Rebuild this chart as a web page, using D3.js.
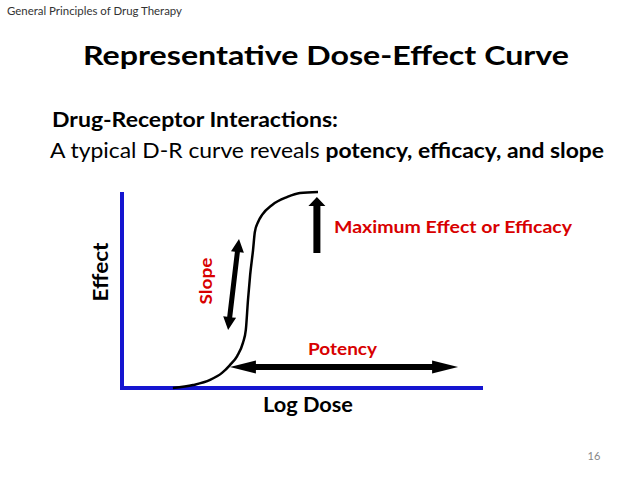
<!DOCTYPE html>
<html>
<head>
<meta charset="utf-8">
<script src="https://cdn.jsdelivr.net/npm/d3@7"></script>
<style>
  html, body { margin: 0; padding: 0; background: #fff; }
  svg { display: block; font-family: Lato, "Open Sans", sans-serif; }
</style>
</head>
<body>
<div id="chart"></div>
<script>
// dose-effect curve (log dose 0..10, effect 0..100)
const logDose = [1.41, 1.97, 2.44, 2.77, 2.99, 3.19, 3.35, 3.43, 3.49, 3.55, 3.63, 3.68, 3.77, 3.88, 4.16, 4.57, 4.93, 5.43];
const effect  = [0, 1.5, 4.1, 7.7, 11.7, 16.3, 23, 29.6, 44.9, 57.7, 70.4, 79.6, 84.7, 88.3, 93.4, 97.4, 99.5, 100];

// annotation arrows, in data units [logDose, effect]
const slopeArrow   = [[3.24, 76], [2.94, 29.6]];
const maxArrow     = [[5.40, 68.9], [5.40, 97.4]];
const potencyArrow = [[2.99, 10.7], [9.31, 10.7]];

const labels = {
  header: "General Principles of Drug Therapy",
  title: "Representative Dose-Effect Curve",
  sub1: "Drug-Receptor Interactions:",
  sub2a: "A typical D-R curve reveals ",
  sub2b: "potency, efficacy, and slope",
  xAxis: "Log Dose",
  yAxis: "Effect",
  slope: "Slope",
  maxEff: "Maximum Effect or Efficacy",
  potency: "Potency",
  page: "16"
};

const W = 638, H = 479;
const red = "#d80000", blue = "#1515d0";

const svg = d3.select("#chart").append("svg")
    .attr("width", W)
    .attr("height", H);

let x = d3.scaleLinear().domain([0, 10]).range([122, 483]),
    y = d3.scaleLinear().domain([0, 100]).range([388, 192]);

// slide texts
svg.append("text").attr("x", 7).attr("y", 15)
    .attr("font-size", 11).attr("fill", "#333")
    .attr("textLength", 175).attr("lengthAdjust", "spacingAndGlyphs")
    .text(labels.header);

svg.append("text").attr("x", 83).attr("y", 65)
    .attr("font-size", 27).attr("font-weight", "bold")
    .attr("textLength", 486).attr("lengthAdjust", "spacingAndGlyphs")
    .text(labels.title);

svg.append("text").attr("x", 52).attr("y", 127)
    .attr("font-size", 21).attr("font-weight", "bold")
    .attr("textLength", 286).attr("lengthAdjust", "spacingAndGlyphs")
    .text(labels.sub1);

let sub2 = svg.append("text").attr("x", 50).attr("y", 158)
    .attr("font-size", 21)
    .attr("textLength", 554).attr("lengthAdjust", "spacingAndGlyphs");
sub2.append("tspan").text(labels.sub2a);
sub2.append("tspan").attr("font-weight", "bold").text(labels.sub2b);

svg.append("text").attr("x", 594).attr("y", 460)
    .attr("font-size", 11).attr("fill", "#888").attr("text-anchor", "middle")
    .text(labels.page);

// axes: plain blue lines, no ticks
svg.append("line")
    .attr("x1", x(0)).attr("x2", x(0))
    .attr("y1", y(100)).attr("y2", y(0) + 2)
    .attr("stroke", blue).attr("stroke-width", 4);
svg.append("line")
    .attr("x1", x(0) - 2).attr("x2", x(10))
    .attr("y1", y(0)).attr("y2", y(0))
    .attr("stroke", blue).attr("stroke-width", 4);

svg.append("text")
    .attr("transform", "translate(108,272) rotate(-90)")
    .attr("text-anchor", "middle").attr("font-size", 20).attr("font-weight", "bold")
    .attr("textLength", 59).attr("lengthAdjust", "spacingAndGlyphs")
    .text(labels.yAxis);

svg.append("text").attr("x", 263).attr("y", 412)
    .attr("font-size", 20).attr("font-weight", "bold")
    .attr("textLength", 90).attr("lengthAdjust", "spacingAndGlyphs")
    .text(labels.xAxis);

// the curve
let line = d3.line()
    .curve(d3.curveMonotoneX)
    .x(function(d, i) { return x(logDose[i]); })
    .y(function(d) { return y(d); });

svg.append("path")
    .attr("d", line(effect))
    .attr("fill", "none")
    .attr("stroke", "#000")
    .attr("stroke-width", 2.5);

// arrow polygon from p0 to p1 (pixels); head at p1, and at p0 too if both
function arrow(p0, p1, shaft, headLen, headW, both) {
    let dx = p1[0] - p0[0], dy = p1[1] - p0[1];
    let len = Math.sqrt(dx * dx + dy * dy);
    let ux = dx / len, uy = dy / len, nx = -uy, ny = ux;
    let pt = function(t, s) { return [p0[0] + ux * t + nx * s, p0[1] + uy * t + ny * s]; };
    let a = both ? headLen : 0, b = len - headLen;
    let pts = [];
    if (both) pts.push(pt(0, 0), pt(a, headW / 2));
    pts.push(pt(a, shaft / 2), pt(b, shaft / 2), pt(b, headW / 2), pt(len, 0),
             pt(b, -headW / 2), pt(b, -shaft / 2), pt(a, -shaft / 2));
    if (both) pts.push(pt(a, -headW / 2));
    return "M" + pts.map(function(p) { return p[0].toFixed(1) + "," + p[1].toFixed(1); }).join("L") + "Z";
}

let px = function(d) { return [x(d[0]), y(d[1])]; };

svg.append("path")
    .attr("d", arrow(px(slopeArrow[0]), px(slopeArrow[1]), 5, 13, 13, true))
    .attr("fill", "#000");
svg.append("path")
    .attr("d", arrow(px(maxArrow[0]), px(maxArrow[1]), 7, 9, 17, false))
    .attr("fill", "#000");
svg.append("path")
    .attr("d", arrow(px(potencyArrow[0]), px(potencyArrow[1]), 6, 26, 13, true))
    .attr("fill", "#000");

// red annotation labels
svg.append("text")
    .attr("transform", "translate(212,281) rotate(-90)")
    .attr("text-anchor", "middle").attr("font-size", 17).attr("font-weight", "bold")
    .attr("fill", red)
    .attr("textLength", 47).attr("lengthAdjust", "spacingAndGlyphs")
    .text(labels.slope);

svg.append("text").attr("x", 334).attr("y", 233)
    .attr("font-size", 17).attr("font-weight", "bold").attr("fill", red)
    .attr("textLength", 238).attr("lengthAdjust", "spacingAndGlyphs")
    .text(labels.maxEff);

svg.append("text").attr("x", 308).attr("y", 355)
    .attr("font-size", 17).attr("font-weight", "bold").attr("fill", red)
    .attr("textLength", 69).attr("lengthAdjust", "spacingAndGlyphs")
    .text(labels.potency);
</script>
</body>
</html>
